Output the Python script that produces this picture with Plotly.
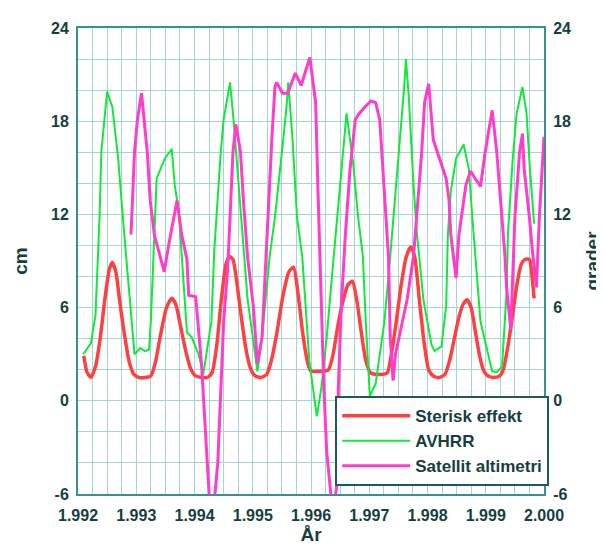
import plotly.graph_objects as go

# Sterisk effekt (cm)
ster_x = [1992.10, 1992.15, 1992.22, 1992.30, 1992.38, 1992.46, 1992.54, 1992.59, 1992.65, 1992.72,
          1992.80, 1992.88, 1992.96, 1993.05, 1993.15, 1993.25, 1993.33, 1993.42, 1993.52, 1993.61,
          1993.68, 1993.76, 1993.85, 1993.93, 1994.02, 1994.12, 1994.22, 1994.30, 1994.38, 1994.46,
          1994.54, 1994.60, 1994.66, 1994.72, 1994.80, 1994.88, 1994.96, 1995.04, 1995.14, 1995.24,
          1995.32, 1995.42, 1995.52, 1995.62, 1995.70, 1995.78, 1995.86, 1995.94, 1996.00, 1996.10,
          1996.20, 1996.30, 1996.38, 1996.46, 1996.56, 1996.64, 1996.71, 1996.78, 1996.86, 1996.94,
          1997.02, 1997.12, 1997.22, 1997.31, 1997.38, 1997.46, 1997.55, 1997.63, 1997.71, 1997.78,
          1997.86, 1997.94, 1998.02, 1998.10, 1998.20, 1998.30, 1998.38, 1998.46, 1998.54, 1998.61,
          1998.68, 1998.75, 1998.82, 1998.90, 1998.97, 1999.04, 1999.14, 1999.24, 1999.30, 1999.38,
          1999.46, 1999.54, 1999.61, 1999.67, 1999.75, 1999.79, 1999.83]
ster_y = [2.9, 1.9, 1.5, 2.2, 4.0, 6.5, 8.5, 8.9, 8.3, 6.3,
          4.2, 2.5, 1.7, 1.5, 1.5, 1.6, 2.5, 4.3, 6.0, 6.6,
          6.2, 4.8, 3.2, 2.1, 1.6, 1.5, 1.5, 1.8, 3.5, 6.5,
          8.8, 9.3, 9.1, 7.8, 5.5, 3.4, 2.1, 1.6, 1.5, 1.7,
          2.6, 4.5, 6.8, 8.3, 8.6, 6.8, 4.3, 2.5, 1.9, 1.9,
          1.9, 2.0, 3.0, 4.8, 6.6, 7.5, 7.7, 6.6, 4.5, 2.6,
          1.8, 1.7, 1.7, 1.8, 3.0, 5.0, 7.5, 9.2, 9.9, 9.3,
          6.5, 3.8, 2.0, 1.6, 1.5, 1.7, 2.6, 4.0, 5.4, 6.2,
          6.5, 6.0, 4.5, 2.8, 1.9, 1.6, 1.5, 1.6, 2.0, 3.5,
          5.5, 7.6, 8.8, 9.1, 9.1, 8.2, 6.6]

# AVHRR (grader)
avhrr_x = [1992.09, 1992.22, 1992.30, 1992.37, 1992.40, 1992.50, 1992.59, 1992.69, 1992.77, 1992.82,
           1992.97, 1993.07, 1993.15, 1993.22, 1993.25, 1993.35, 1993.40, 1993.49, 1993.61, 1993.66,
           1993.73, 1993.87, 1993.95, 1994.07, 1994.15, 1994.29, 1994.34, 1994.45, 1994.50, 1994.61,
           1994.67, 1994.76, 1994.84, 1994.91, 1995.08, 1995.16, 1995.29, 1995.38, 1995.50, 1995.58,
           1995.61, 1995.68, 1995.76, 1995.85, 1995.97, 1996.10, 1996.18, 1996.27, 1996.35, 1996.47,
           1996.55, 1996.61, 1996.72, 1996.81, 1996.89, 1996.94, 1997.01, 1997.11, 1997.26, 1997.36,
           1997.51, 1997.60, 1997.63, 1997.68, 1997.76, 1997.82, 1997.93, 1998.07, 1998.12, 1998.24,
           1998.32, 1998.35, 1998.40, 1998.49, 1998.62, 1998.71, 1998.77, 1998.82, 1998.91, 1999.11,
           1999.19, 1999.28, 1999.36, 1999.38, 1999.46, 1999.53, 1999.63, 1999.70, 1999.75, 1999.83]
avhrr_y = [3.0, 3.7, 5.5, 11.8, 16.0, 19.9, 18.9, 15.6, 11.8, 9.7,
           3.0, 3.4, 3.2, 3.3, 5.1, 14.3, 14.8, 15.6, 16.2, 13.9,
           12.2, 4.4, 4.1, 3.0, 1.7, 5.1, 9.7, 16.0, 18.1, 20.5,
           18.1, 13.9, 9.7, 6.6, 1.9, 4.1, 9.3, 11.8, 16.0, 18.9,
           20.5, 17.0, 11.8, 9.3, 2.6, -1.0, 0.9, 4.1, 7.6, 12.9,
           16.0, 18.5, 15.4, 11.8, 9.3, 5.1, 0.3, 1.1, 5.1, 9.3,
           16.0, 20.2, 22.0, 19.5, 13.9, 10.7, 6.5, 3.6, 3.2, 3.5,
           6.1, 10.7, 13.5, 15.6, 16.5, 14.9, 11.8, 9.3, 5.1, 1.9,
           1.85, 2.2, 7.2, 10.7, 15.4, 18.5, 20.2, 18.5, 15.4, 11.4]

# Satellit altimetri (cm)
alt_x = [1992.91, 1992.94, 1992.97, 1993.02, 1993.09, 1993.19, 1993.24, 1993.31, 1993.48, 1993.56,
         1993.70, 1993.78, 1993.87, 1993.90, 1994.02, 1994.12, 1994.20, 1994.29, 1994.40, 1994.45,
         1994.50, 1994.57, 1994.66, 1994.71, 1994.79, 1994.84, 1994.91, 1995.01, 1995.08, 1995.16,
         1995.23, 1995.28, 1995.33, 1995.38, 1995.41, 1995.51, 1995.60, 1995.73, 1995.83, 1995.98,
         1996.08, 1996.12, 1996.17, 1996.22, 1996.27, 1996.32, 1996.38, 1996.44, 1996.47, 1996.52,
         1996.59, 1996.67, 1996.76, 1996.81, 1996.92, 1997.03, 1997.11, 1997.18, 1997.23, 1997.28,
         1997.33, 1997.36, 1997.41, 1997.45, 1997.65, 1997.76, 1997.85, 1997.90, 1997.95, 1998.02,
         1998.10, 1998.20, 1998.32, 1998.37, 1998.40, 1998.49, 1998.54, 1998.66, 1998.74, 1998.82,
         1998.91, 1998.99, 1999.11, 1999.19, 1999.28, 1999.33, 1999.36, 1999.43, 1999.50, 1999.58,
         1999.63, 1999.66, 1999.75, 1999.80, 1999.87, 1999.92, 2000.00]
alt_y = [10.7, 13.5, 16.0, 18.1, 19.8, 16.0, 12.9, 10.7, 8.3, 10.1,
         12.9, 10.7, 9.1, 6.8, 6.7, 2.4, -2.5, -8.5, -4.0, 0.9,
         5.1, 8.5, 16.0, 17.8, 16.0, 12.9, 9.3, 6.1, 2.4, 4.1,
         9.3, 13.9, 17.0, 20.2, 20.5, 19.8, 19.8, 21.1, 20.3, 22.1,
         19.2, 13.5, 7.5, 0.9, -3.3, -5.5, -7.5, -5.5, 0.9, 6.1,
         10.7, 14.9, 18.1, 18.4, 18.9, 19.3, 19.2, 18.1, 14.9, 11.8,
         9.3, 4.1, 1.3, 3.0, 6.5, 9.3, 13.5, 16.0, 19.2, 20.4,
         16.8, 15.6, 14.3, 12.9, 10.7, 7.9, 10.7, 13.9, 14.8, 14.3,
         13.8, 16.0, 18.7, 16.0, 11.8, 9.3, 7.2, 4.6, 11.8, 16.0,
         17.2, 14.9, 11.8, 9.7, 7.3, 11.8, 17.0]

x_ticks = [1992, 1993, 1994, 1995, 1996, 1997, 1998, 1999, 2000]
x_ticktext = ["1.992", "1.993", "1.994", "1.995", "1.996", "1.997", "1.998", "1.999", "2.000"]
y_ticks = [-6, 0, 6, 12, 18, 24]

TXT = "#143f40"
GRID = "#a3d4d8"
FRAME = "#3a8f90"
FONT = "Arial, Liberation Sans, sans-serif"

fig = go.Figure()
fig.add_trace(go.Scatter(x=ster_x, y=ster_y, name="Sterisk effekt", mode="lines",
                         line=dict(color="#ff4040", width=3.5, shape="spline", smoothing=0.6)))
fig.add_trace(go.Scatter(x=avhrr_x, y=avhrr_y, name="AVHRR", mode="lines", yaxis="y2",
                         line=dict(color="#10e83a", width=2)))
fig.add_trace(go.Scatter(x=alt_x, y=alt_y, name="Satellit altimetri", mode="lines", yaxis="y2",
                         line=dict(color="#ff3ccb", width=3)))

tickfont = dict(family=FONT, size=16, color=TXT, weight="bold")
yax = dict(range=[-6, 24], tickvals=y_ticks, ticktext=[str(v) for v in y_ticks],
           showgrid=True, gridcolor=GRID, gridwidth=1, zeroline=False,
           minor=dict(dtick=2, showgrid=True, gridcolor=GRID, gridwidth=1),
           showline=True, linecolor=FRAME, linewidth=2, ticks="", tickfont=tickfont,
           ticklabelstandoff=4, fixedrange=True)

fig.update_layout(
    width=604, height=544,
    margin=dict(l=69, r=59, t=16, b=51),
    paper_bgcolor="white", plot_bgcolor="white",
    xaxis=dict(range=[1992, 2000], tickvals=x_ticks, ticktext=x_ticktext,
               showgrid=True, gridcolor=GRID, gridwidth=1, zeroline=False,
               minor=dict(dtick=0.25, tick0=1992, showgrid=True, gridcolor=GRID, gridwidth=1),
               showline=True, linecolor=FRAME, linewidth=2, mirror=True, ticks="",
               tickfont=tickfont, ticklabelstandoff=6,
               title=dict(text="År", font=dict(family=FONT, size=19, color=TXT, weight="bold"),
                          standoff=2)),
    yaxis=dict(**yax, mirror=True,
               title=dict(text="cm", font=dict(family=FONT, size=19, color=TXT, weight="bold"),
                          standoff=18)),
    yaxis2=dict(**yax, overlaying="y", side="right",
                title=dict(text="grader", font=dict(family=FONT, size=19, color=TXT, weight="bold"),
                           standoff=16)),
    legend=dict(x=0.552, y=0.017, xanchor="left", yanchor="bottom",
                bgcolor="white", bordercolor="#1f5a5b", borderwidth=2,
                font=dict(family=FONT, size=17, color=TXT, weight="bold"),
                itemwidth=68, tracegroupgap=0),
    showlegend=True,
)

fig.write_html("out.html")
